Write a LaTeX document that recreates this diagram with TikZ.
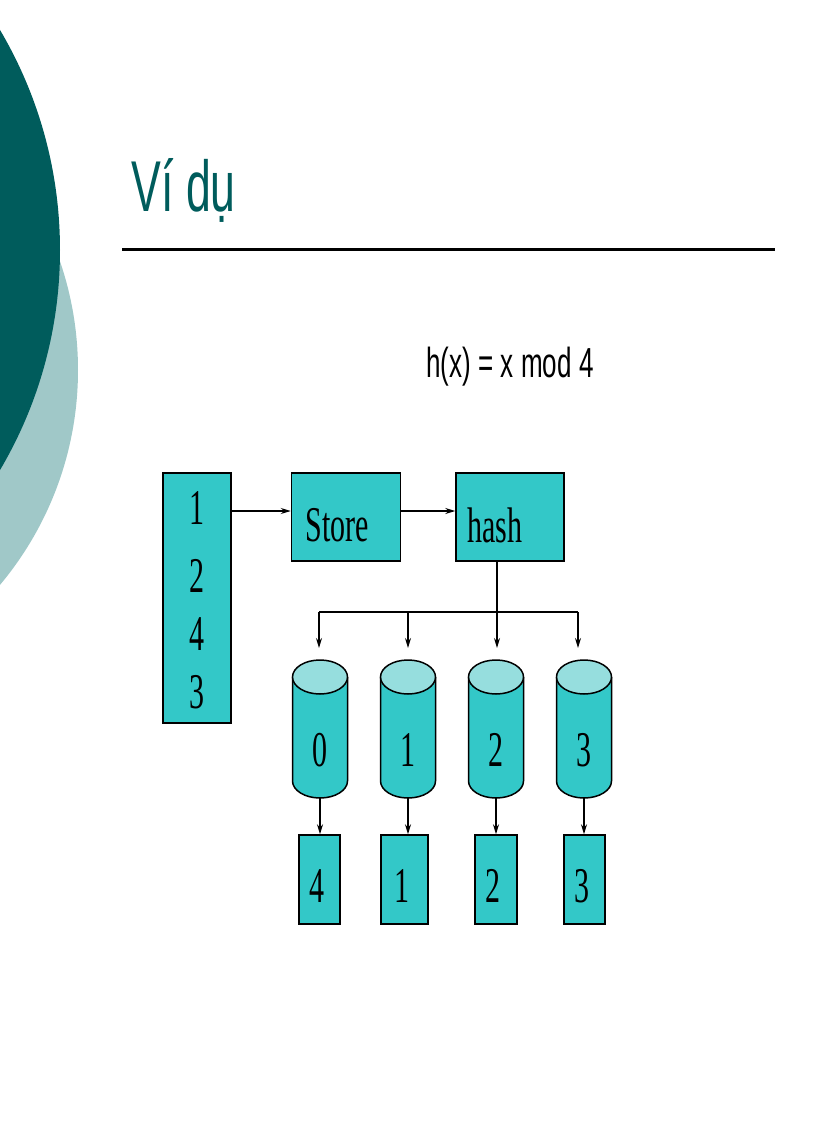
\documentclass[tikz,border=0pt]{standalone}
\usepackage{fontspec}
\setmainfont{Liberation Serif}
\newfontfamily\narrowserif[FakeStretch=0.6]{Liberation Serif}
\newfontfamily\narrowsans[FakeStretch=0.62]{Liberation Sans}
\usetikzlibrary{arrows.meta,positioning}
\definecolor{tealfill}{RGB}{51,200,200}
\definecolor{tealtop}{RGB}{150,222,222}
\definecolor{darkteal}{RGB}{0,92,92}
\definecolor{lightteal}{RGB}{160,200,200}

\begin{document}
\begin{tikzpicture}[x=1pt,y=-1pt,font=\narrowserif\fontsize{50}{56}\selectfont,
  box/.style={draw, line width=1.5pt, fill=tealfill, inner sep=0pt},
  drum/.style={minimum width=55pt, minimum height=138pt, inner sep=0pt},
  link/.style={line width=1.2pt, -{Stealth[length=10pt,width=6pt]}},
]
\useasboundingbox (0,0) rectangle (816,1123);
% background circles
\fill[lightteal] (-257,370) circle (335);
\fill[darkteal] (-373,250) circle (433);

% title
\node[anchor=base west, text=darkteal, font=\narrowsans\fontsize{72}{80}\selectfont] (title) at (128,212) {Ví dụ};
\draw[line width=3pt] (122,249) -- (775,249);
\node[font=\narrowsans\fontsize{42}{48}\selectfont] (formula) at (510,367) {h(x) = x mod 4};

% input list
\node[box, minimum width=68pt, minimum height=250pt] (input) at (197,598) {};
\foreach \v/\y in {1/508,2/576,4/634,3/692}
  \node (in\v) at (197,\y) {\v};

\node[box, minimum width=109pt, minimum height=88pt] (store) at (346,517) {};
\node[anchor=west] (storetext) at (302,525) {Store};
\node[box, minimum width=108pt, minimum height=88pt] (hash) at (510,517) {};
\node[anchor=west] (hashtext) at (464,525) {hash};

\coordinate (out) at (231,511);
\draw[link] (out) -- (store.west |- out);
\draw[link] (store.east |- out) -- (hash.west |- out);

% buckets
\coordinate (split) at (497,612);
\foreach \i/\x/\bx/\bw/\v in {0/320/319.5/41/4, 1/408/404.5/47/1, 2/496/496/42/2, 3/584/584.5/41/3} {
  \node[drum] (drum\i) at (\x,729) {};
  \draw[line width=1.5pt, fill=tealfill]
    (\x-27.5,677) -- (\x-27.5,781)
    arc[start angle=180, end angle=0, x radius=27.5, y radius=17]
    -- (\x+27.5,677);
  \draw[line width=1.5pt, fill=tealtop] (\x,677) ellipse[x radius=27.5, y radius=17];
  \node (lab\i) at (\x,750) {\i};
  \node[box, minimum width=\bw pt, minimum height=89pt] (slot\i) at (\bx,879.5) {};
  \node (val\i) at (\bx-3,886) {\v};
  \draw[link] (drum\i.south) -- (slot\i.north -| drum\i);
}
\draw[line width=1.2pt] (hash.south -| split) -- (split);
\draw[line width=1.2pt] (319,612) -- (578,612);
\foreach \x in {319,408,497,578}
  \draw[link] (\x,612) -- (\x,648);
\end{tikzpicture}
\end{document}
